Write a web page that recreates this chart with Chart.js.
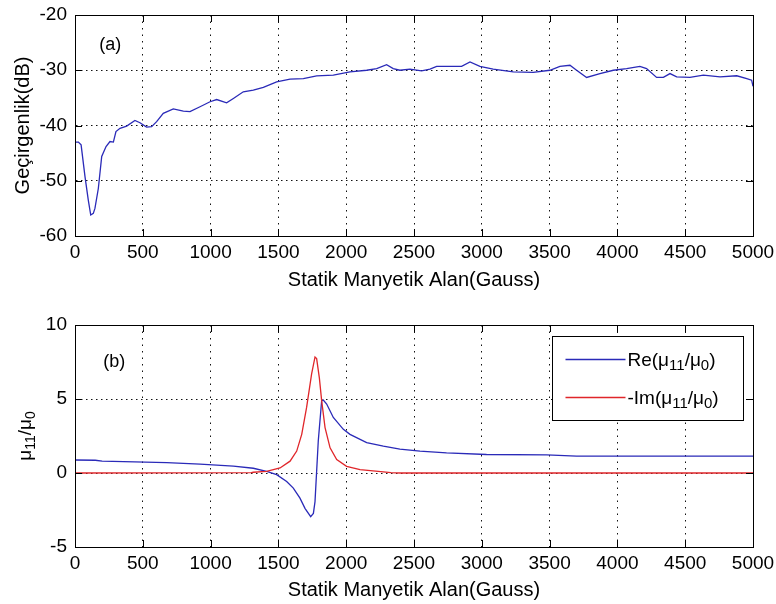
<!DOCTYPE html>
<html>
<head>
<meta charset="utf-8">
<script src="https://cdn.jsdelivr.net/npm/chart.js@4"></script>
<style>
  html, body { margin: 0; padding: 0; background: #fff; }
  canvas { display: block; }
</style>
</head>
<body>
<canvas id="plot-a" width="776" height="300"></canvas>
<canvas id="plot-b" width="776" height="304"></canvas>
<script>
// (a) transmission vs static field
const fieldA = [0, 25, 45, 74, 98, 116, 135, 147, 172, 197, 229, 258, 283, 302, 332, 381, 442, 479,
  528, 565, 602, 651, 725, 799, 848, 922, 996, 1045, 1118, 1168, 1241, 1315, 1389, 1487, 1586,
  1684, 1782, 1905, 2028, 2151, 2225, 2298, 2347, 2396, 2470, 2556, 2618, 2667, 2740, 2851, 2913,
  2986, 3084, 3232, 3379, 3502, 3576, 3650, 3699, 3773, 3871, 3970, 4068, 4166, 4215, 4289, 4339,
  4388, 4437, 4535, 4634, 4757, 4880, 4954, 4990, 5000]
const gainA = [-43.0, -43.0, -43.5, -49.3, -53.5, -56.2, -55.9, -55.0, -51.4, -45.6, -43.8, -42.9,
  -43.0, -41.1, -40.5, -40.1, -39.1, -39.5, -40.3, -40.2, -39.3, -37.8, -37.0, -37.4, -37.5, -36.6,
  -35.7, -35.3, -35.9, -35.1, -33.9, -33.6, -33.1, -32.1, -31.6, -31.5, -31.0, -30.9, -30.3, -30.0,
  -29.7, -29.0, -29.7, -30.0, -29.8, -30.1, -29.8, -29.3, -29.3, -29.3, -28.5, -29.3, -29.8, -30.3,
  -30.4, -30.0, -29.3, -29.1, -30.0, -31.3, -30.6, -30.0, -29.7, -29.3, -29.7, -31.3, -31.3, -30.6,
  -31.2, -31.3, -30.9, -31.2, -31.0, -31.5, -31.8, -32.9]

// (b) relative permeability, real part
const fieldRe = [0, 150, 200, 676, 922, 1168, 1315, 1413, 1487, 1561, 1610, 1659, 1696, 1738, 1758,
  1770, 1794, 1819, 1831, 1856, 1905, 1979, 2028, 2151, 2274, 2396, 2544, 2740, 3035, 3478, 3699, 5000]
const reMu = [0.88, 0.86, 0.80, 0.70, 0.60, 0.47, 0.32, 0.11, -0.11, -0.57, -1.02, -1.70, -2.39,
  -2.95, -2.73, -1.93, 2.16, 4.89, 4.93, 4.66, 3.75, 2.95, 2.61, 2.05, 1.82, 1.62, 1.48, 1.36, 1.25,
  1.22, 1.14, 1.14]

// (b) relative permeability, negative imaginary part
const fieldIm = [0, 1300, 1315, 1413, 1512, 1586, 1635, 1672, 1708, 1745, 1770, 1782, 1802, 1819,
  1844, 1881, 1930, 2003, 2102, 2274, 2330, 2400, 5000]
const imMu = [0, 0.02, 0.05, 0.11, 0.34, 0.80, 1.48, 2.61, 4.43, 6.70, 7.84, 7.73, 6.43, 4.89,
  3.07, 1.70, 0.91, 0.45, 0.23, 0.07, 0.02, 0, 0]

const fieldTicks = { min: 0, max: 5000, step: 500 }
const gainTicks = { min: -60, max: -20, step: 10 }
const muTicks = { min: -5, max: 10, step: 5 }

const BLUE = '#2a2ab8'
const RED = '#e0262a'
const TICK = 7
const FONT = '"Liberation Sans", Arial, sans-serif'

Chart.defaults.font.family = FONT
Chart.defaults.font.size = 19
Chart.defaults.color = '#000'

const toPoints = (xs, ys) => xs.map((x, i) => ({ x, y: ys[i] }))

// text runs as [text, isSubscript]
function drawRuns(ctx, runs, x, y, size, subSize, align) {
  const main = size + 'px ' + FONT
  const sub = subSize + 'px ' + FONT
  let w = 0
  runs.forEach(([t, s]) => { ctx.font = s ? sub : main; w += ctx.measureText(t).width })
  let cx = align === 'center' ? x - w / 2 : x
  ctx.textAlign = 'left'
  ctx.textBaseline = 'alphabetic'
  runs.forEach(([t, s]) => {
    ctx.font = s ? sub : main
    ctx.fillText(t, cx, s ? y + size * 0.22 : y)
    cx += ctx.measureText(t).width
  })
}

// full box, inward ticks on all four sides, panel tag
const axesBox = {
  id: 'axesBox',
  afterDraw(chart, args, opts) {
    const { ctx, chartArea: a, scales: { x, y } } = chart
    ctx.save()
    ctx.strokeStyle = '#000'
    ctx.lineWidth = 1
    ctx.beginPath()
    x.ticks.forEach((t) => {
      const px = Math.round(x.getPixelForValue(t.value)) + 0.5
      ctx.moveTo(px, a.top); ctx.lineTo(px, a.top + TICK)
      ctx.moveTo(px, a.bottom); ctx.lineTo(px, a.bottom - TICK)
    })
    y.ticks.forEach((t) => {
      const py = Math.round(y.getPixelForValue(t.value)) + 0.5
      ctx.moveTo(a.left, py); ctx.lineTo(a.left + TICK, py)
      ctx.moveTo(a.right, py); ctx.lineTo(a.right - TICK, py)
    })
    ctx.stroke()
    ctx.strokeRect(Math.round(a.left) + 0.5, Math.round(a.top) + 0.5,
      Math.round(a.right - a.left), Math.round(a.bottom - a.top))
    if (opts.tag) {
      ctx.fillStyle = '#000'
      ctx.font = '18px ' + FONT
      ctx.textAlign = 'center'
      ctx.textBaseline = 'middle'
      ctx.fillText(opts.tag, x.getPixelForValue(opts.tagAt[0]), y.getPixelForValue(opts.tagAt[1]))
    }
    ctx.restore()
  }
}

// y title and legend with subscripts for panel (b)
const muLabels = {
  id: 'muLabels',
  afterDraw(chart) {
    const { ctx, chartArea: a } = chart
    ctx.save()
    ctx.fillStyle = '#000'
    ctx.translate(25, (a.top + a.bottom) / 2)
    ctx.rotate(-Math.PI / 2)
    drawRuns(ctx, [['μ', 0], ['11', 1], ['/μ', 0], ['0', 1]], 0, 6, 19, 14, 'center')
    ctx.restore()

    const items = [
      { color: BLUE, runs: [['Re(μ', 0], ['11', 1], ['/μ', 0], ['0', 1], [')', 0]] },
      { color: RED, runs: [['-Im(μ', 0], ['11', 1], ['/μ', 0], ['0', 1], [')', 0]] }
    ]
    const bw = 191, bh = 84
    const bx = Math.round(a.right - 10 - bw) + 0.5
    const by = Math.round(a.top + 11) + 0.5
    ctx.save()
    ctx.fillStyle = '#fff'
    ctx.fillRect(bx, by, bw, bh)
    ctx.strokeStyle = '#000'
    ctx.lineWidth = 1
    ctx.strokeRect(bx, by, bw, bh)
    items.forEach((it, i) => {
      const ly = by + 23 + i * 38
      ctx.strokeStyle = it.color
      ctx.lineWidth = 1.3
      ctx.beginPath()
      ctx.moveTo(bx + 13, ly)
      ctx.lineTo(bx + 73, ly)
      ctx.stroke()
      ctx.fillStyle = '#000'
      drawRuns(ctx, it.runs, bx + 75, ly + 6, 19, 15, 'left')
    })
    ctx.restore()
  }
}

function fieldAxis(height, titlePad) {
  return {
    type: 'linear',
    min: fieldTicks.min,
    max: fieldTicks.max,
    ticks: { stepSize: fieldTicks.step, padding: 5, maxRotation: 0, callback: (v) => String(v) },
    grid: { color: '#111', drawTicks: false },
    border: { color: '#000', dash: [1.5, 5] },
    title: {
      display: true,
      text: 'Statik Manyetik Alan(Gauss)',
      font: { size: 20 },
      padding: { top: 0, bottom: titlePad }
    },
    afterFit: (s) => {
      s.height = height
      s.paddingLeft = 0
      s.paddingRight = 0
    }
  }
}

function valueAxis(range, title) {
  return {
    min: range.min,
    max: range.max,
    ticks: { stepSize: range.step, padding: 8, callback: (v) => String(v) },
    grid: { color: '#111', drawTicks: false },
    border: { color: '#000', dash: [1.5, 3.5] },
    title: title
      ? { display: true, text: title, font: { size: 20 }, padding: { top: 11, bottom: 0 } }
      : { display: false },
    afterFit: (s) => {
      s.width = 75
      s.paddingTop = 0
      s.paddingBottom = 0
    }
  }
}

const lineStyle = { borderWidth: 1.3, pointRadius: 0, tension: 0, fill: false }

new Chart(document.getElementById('plot-a'), {
  type: 'line',
  data: {
    datasets: [{ ...lineStyle, data: toPoints(fieldA, gainA), borderColor: BLUE }]
  },
  options: {
    responsive: false,
    animation: false,
    layout: { padding: { top: 15, right: 23, left: 0, bottom: 0 } },
    scales: {
      x: fieldAxis(64, 8),
      y: valueAxis(gainTicks, 'Geçirgenlik(dB)')
    },
    plugins: {
      legend: { display: false },
      tooltip: { enabled: false },
      axesBox: { tag: '(a)', tagAt: [260, -25.5] }
    }
  },
  plugins: [axesBox]
})

new Chart(document.getElementById('plot-b'), {
  type: 'line',
  data: {
    datasets: [
      // red drawn over blue
      { ...lineStyle, data: toPoints(fieldRe, reMu), borderColor: BLUE, order: 1 },
      { ...lineStyle, data: toPoints(fieldIm, imMu), borderColor: RED, order: 0 }
    ]
  },
  options: {
    responsive: false,
    animation: false,
    layout: { padding: { top: 25, right: 23, left: 0, bottom: 0 } },
    scales: {
      x: fieldAxis(57, 2),
      y: valueAxis(muTicks, null)
    },
    plugins: {
      legend: { display: false },
      tooltip: { enabled: false },
      axesBox: { tag: '(b)', tagAt: [290, 7.5] }
    }
  },
  plugins: [axesBox, muLabels]
})
</script>
</body>
</html>
